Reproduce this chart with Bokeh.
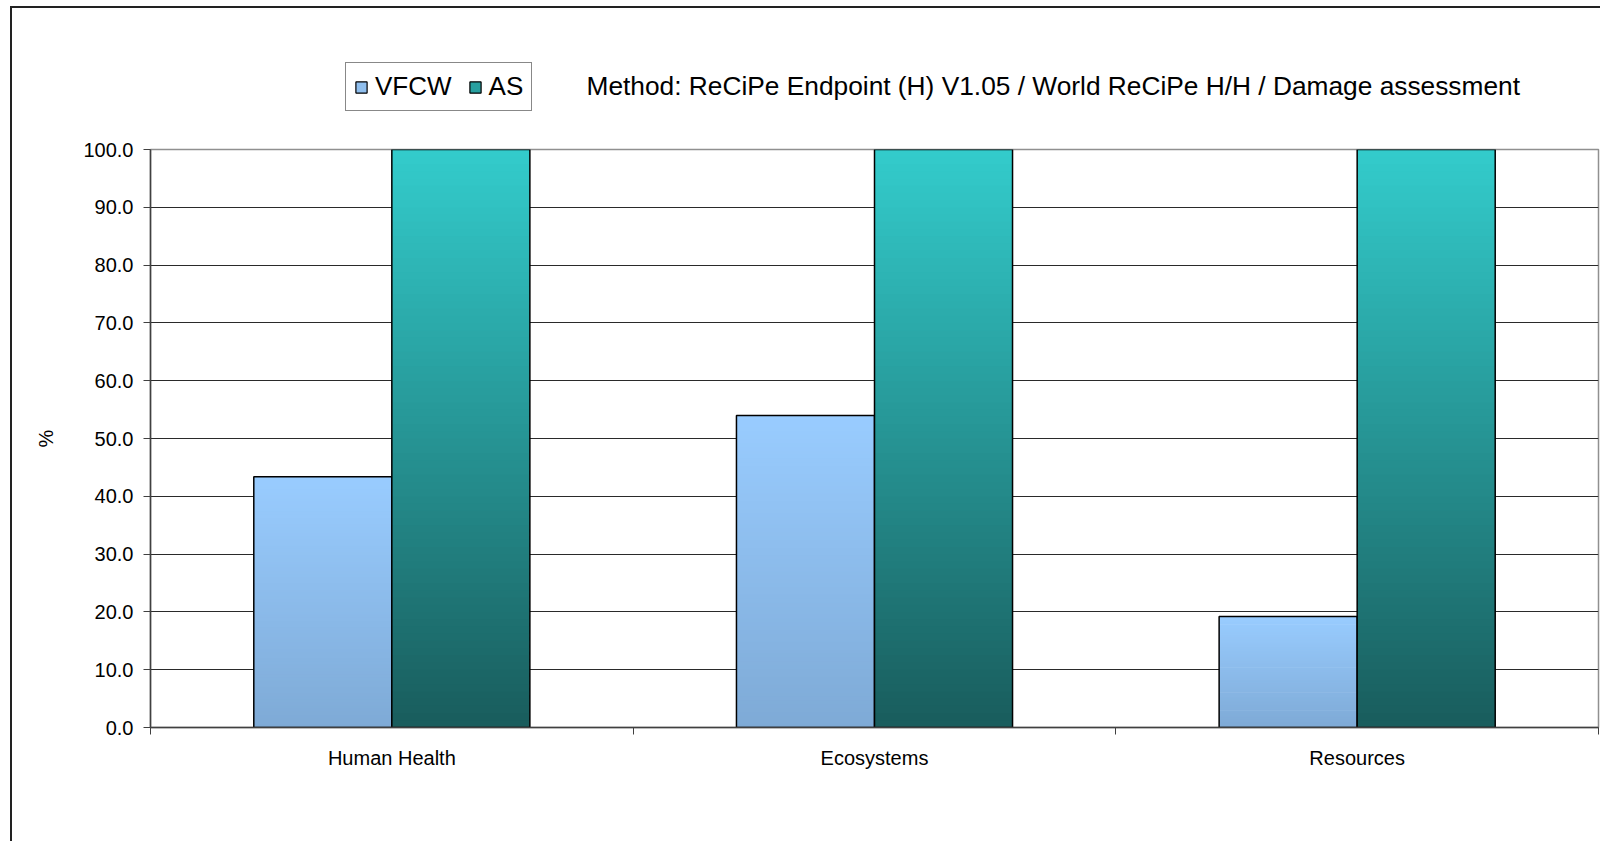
import numpy as np
from bokeh.plotting import figure
from bokeh.layouts import column
from bokeh.models import (Range1d, FixedTicker, PrintfTickFormatter, Legend, LegendItem,
                          Label, ColumnDataSource)
from bokeh.embed import file_html
from bokeh.resources import INLINE

# ---- data ----
categories = ["Human Health", "Ecosystems", "Resources"]
series_names = ["VFCW", "AS"]
vfcw_values = [43.4, 54.0, 19.2]
as_values = [100.0, 100.0, 100.0]
y_ticks = [0, 10, 20, 30, 40, 50, 60, 70, 80, 90, 100]
title_text = "Method: ReCiPe Endpoint (H) V1.05 /  World ReCiPe H/H / Damage assessment"

# ---- style ----
FONT = "Liberation Sans"
VF_TOP, VF_BOT = (153, 204, 255), (126, 170, 214)
AS_TOP, AS_BOT = (51, 204, 204), (25, 92, 92)
BAR_W = 0.286
N_SEG = 80
FIG_W = 1588

n_cat = len(categories)

# ---------------- header (legend + title) ----------------
hdr = figure(width=FIG_W, height=110, x_range=Range1d(0, 1), y_range=Range1d(0, 1),
             output_backend="svg", toolbar_location=None, title_location=None,
             x_axis_location=None, y_axis_location=None, min_border=0)
hdr.outline_line_color = None
hdr.grid.grid_line_color = None
hdr.background_fill_color = "white"
hdr.border_fill_color = "white"

nan = float("nan")
r_vf = hdr.quad(left=[nan], right=[nan], top=[nan], bottom=[nan],
                fill_color="#90bfee", line_color="black", line_width=1.2)
r_as = hdr.quad(left=[nan], right=[nan], top=[nan], bottom=[nan],
                fill_color="#28a0a0", line_color="black", line_width=1.2)
legend = Legend(items=[LegendItem(label=series_names[0], renderers=[r_vf]),
                       LegendItem(label=series_names[1], renderers=[r_as])],
                orientation="horizontal", location=(195, 7))
legend.label_text_font = FONT
legend.label_text_font_size = "26px"
legend.label_text_color = "black"
legend.glyph_width = 14
legend.glyph_height = 14
legend.label_standoff = 7
legend.spacing = 16
legend.padding = 8
legend.margin = 0
legend.border_line_color = "#111111"
legend.border_line_width = 1
legend.background_fill_color = "white"
legend.background_fill_alpha = 1
hdr.add_layout(legend, "center")

hdr.add_layout(Label(x=436, y=33, x_units="screen", y_units="screen", text=title_text,
                     text_font=FONT, text_font_size="26.3px", text_baseline="alphabetic",
                     text_color="black"))

# ---------------- main chart ----------------
p = figure(width=FIG_W, height=723,
           x_range=Range1d(0, n_cat), y_range=Range1d(0, 100),
           output_backend="svg", toolbar_location=None, title_location=None,
           min_border_left=138, min_border_right=2,
           min_border_top=31, min_border_bottom=114)
p.background_fill_color = "white"
p.border_fill_color = "white"
p.outline_line_color = "#909090"
p.outline_line_width = 1.5


def hexcol(rgb):
    return "#%02x%02x%02x" % tuple(int(round(c)) for c in rgb)


def gradient_source(xs, heights, c_top, c_bot):
    left, right, bottom, top, color = [], [], [], [], []
    for x, h in zip(xs, heights):
        for k in range(N_SEG):
            fm = (k + 0.5) / N_SEG
            rgb = [c_bot[i] + (c_top[i] - c_bot[i]) * fm for i in range(3)]
            left.append(x - BAR_W / 2)
            right.append(x + BAR_W / 2)
            bottom.append(h * k / N_SEG)
            top.append(min(h, h * (k + 1.5) / N_SEG))
            color.append(hexcol(rgb))
    return ColumnDataSource(dict(left=left, right=right, bottom=bottom, top=top, color=color))


x_vf = [i + 0.5 - BAR_W / 2 for i in range(n_cat)]
x_as = [i + 0.5 + BAR_W / 2 for i in range(n_cat)]

for xs, vals, ct, cb in [(x_vf, vfcw_values, VF_TOP, VF_BOT), (x_as, as_values, AS_TOP, AS_BOT)]:
    src = gradient_source(xs, vals, ct, cb)
    p.quad(left="left", right="right", bottom="bottom", top="top", source=src,
           fill_color="color", line_color=None)
    p.vbar(x=xs, top=vals, bottom=0, width=BAR_W, fill_color=None,
           line_color="black", line_width=1.5)

# axes
p.yaxis.ticker = FixedTicker(ticks=y_ticks)
p.yaxis.formatter = PrintfTickFormatter(format="%.1f")
p.yaxis.major_label_text_font = FONT
p.yaxis.major_label_text_font_size = "20px"
p.yaxis.major_label_text_color = "black"
p.yaxis.major_tick_in = 0
p.yaxis.major_tick_out = 7
p.yaxis.minor_tick_line_color = None
p.yaxis.major_label_standoff = 10
p.yaxis.axis_line_color = "#404040"
p.yaxis.axis_line_width = 1.5
p.yaxis.major_tick_line_color = "#404040"
p.yaxis.axis_label = "%"
p.yaxis.axis_label_text_font = FONT
p.yaxis.axis_label_text_font_size = "20px"
p.yaxis.axis_label_text_font_style = "normal"
p.yaxis.axis_label_text_color = "black"
p.yaxis.axis_label_standoff = 23

p.xaxis.ticker = FixedTicker(ticks=[i + 0.5 for i in range(n_cat)],
                             minor_ticks=[float(i) for i in range(n_cat + 1)])
p.xaxis.major_label_overrides = {i + 0.5: c for i, c in enumerate(categories)}
p.xaxis.major_label_text_font = FONT
p.xaxis.major_label_text_font_size = "20px"
p.xaxis.major_label_text_color = "black"
p.xaxis.major_tick_line_color = None
p.xaxis.major_tick_in = 0
p.xaxis.major_tick_out = 0
p.xaxis.major_label_standoff = 12
p.xaxis.minor_tick_in = 0
p.xaxis.minor_tick_out = 7
p.xaxis.minor_tick_line_color = "#404040"
p.xaxis.axis_line_color = "#404040"
p.xaxis.axis_line_width = 1.5

p.xgrid.grid_line_color = None
p.ygrid.ticker = FixedTicker(ticks=y_ticks)
p.ygrid.grid_line_color = "#2a2a2a"
p.ygrid.grid_line_width = 1

layout = column(hdr, p, spacing=0, margin=(6, 0, 0, 10),
                styles={"border-left": "2px solid #222222", "border-top": "2px solid #222222"})

open("out.html", "w").write(file_html(layout, INLINE))
